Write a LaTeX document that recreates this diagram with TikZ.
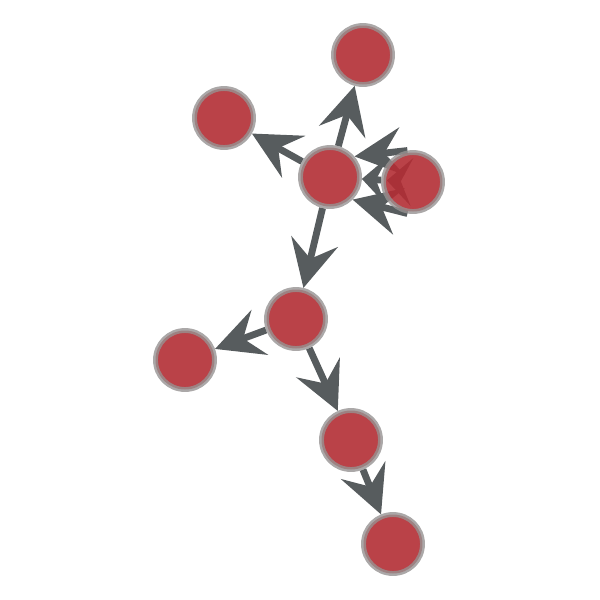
\documentclass[tikz,border=0pt]{standalone}
\usetikzlibrary{arrows.meta, backgrounds}
\definecolor{vertexred}{RGB}{178,45,52}
\definecolor{vertexrim}{RGB}{150,146,146}
\definecolor{edgegray}{RGB}{87,92,94}
\begin{document}
\begin{tikzpicture}[
    x=0.02cm, y=-0.02cm,
    vertex/.style={
      circle, fill=vertexred, fill opacity=0.9, draw=vertexrim,
      draw opacity=0.8, line width=2.8pt, minimum size=1.18cm, inner sep=0pt,
    },
    link/.style={-{Stealth[length=0.95cm, width=0.95cm, inset=0.35cm]},
                 line width=3.9pt, draw=edgegray},
    twinlink/.style={-{Stealth[length=0.5cm, width=0.95cm, inset=0.22cm]
                       Stealth[length=0.5cm, width=0.95cm, inset=0.22cm]},
                 line width=3.9pt, draw=edgegray},
]
\useasboundingbox (0,0) rectangle (600,600);

\node[vertex] (top)    at (363,55)  {};
\node[vertex] (left)   at (224,118) {};
\node[vertex] (hub)    at (330,177) {};
\node[vertex] (east)   at (413,182) {};
\node[vertex] (mid)    at (296,319) {};
\node[vertex] (west)   at (185,360) {};
\node[vertex] (low)    at (351,440) {};
\node[vertex] (bottom) at (393,544) {};

\begin{scope}[on background layer]
  \foreach \a/\b in {hub/top, hub/left, hub/mid, mid/west, mid/low, low/bottom}
      \draw[link] (\a) -- (\b);
  % three links east -> hub
  \draw[link] (east.100) -- (hub.40);
  \draw[link] (east.260) -- (hub.315);
  \draw[twinlink] (east) -- (hub);
\end{scope}
\end{tikzpicture}
\end{document}
